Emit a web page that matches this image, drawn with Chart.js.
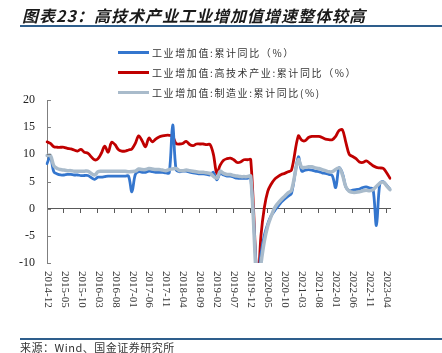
<!DOCTYPE html>
<html>
<head>
<meta charset="utf-8">
<script src="https://cdn.jsdelivr.net/npm/chart.js@4.4.1/dist/chart.umd.min.js"></script>
<style>
body { margin: 0; background: #fff; }
#wrap { position: relative; width: 442px; height: 353px; overflow: hidden; font-family: "Noto Sans CJK SC", sans-serif; }
#chart { position: absolute; left: 0; top: 0; }
.title { position: absolute; left: 22px; top: 3px; font-size: 16px; font-weight: bold; font-style: italic; color: #1a1a1a; letter-spacing: 1px; white-space: nowrap; }
.rule { position: absolute; left: 20px; right: 0; height: 2px; background: #2E5E8C; }
.legend { position: absolute; left: 118px; top: 42px; font-size: 10px; color: #333; letter-spacing: 1.6px; }
.legend div { height: 20px; display: flex; align-items: center; white-space: nowrap; }
.legend i { display: inline-block; width: 31px; height: 3px; margin-right: 3px; }
.source { position: absolute; left: 20px; top: 339px; font-size: 11px; color: #333; white-space: nowrap; letter-spacing: 0.5px; }
</style>
</head>
<body>
<div id="wrap">
  <canvas id="chart" width="442" height="353"></canvas>
  <div class="title">图表23：高技术产业工业增加值增速整体较高</div>
  <div class="rule" style="top:25px"></div>
  <div class="legend">
    <div><i style="background:#3476CE"></i>工业增加值:累计同比（%）</div>
    <div><i style="background:#C00000"></i>工业增加值:高技术产业:累计同比（%）</div>
    <div><i style="background:#A9BBCB"></i>工业增加值:制造业:累计同比(%)</div>
  </div>
  <div class="rule" style="top:338px;height:1.5px"></div>
  <div class="source">来源：Wind、国金证券研究所</div>
</div>
<script>
// months 2014-12 .. 2023-05
const months = [];
for (let y = 2014, m = 12; y < 2023 || m <= 5; ) {
    months.push(y + '-' + String(m).padStart(2, '0'));
    m++;
    if (m > 12) { m = 1; y++; }
}

const yTicks = [-10, -5, 0, 5, 10, 15, 20];

// 工业增加值:累计同比
const industry = [
    8.3, 9.6, 6.8, 6.4, 6.2, 6.2, 6.3, 6.3, 6.2, 6.2, 6.1, 6.1, 6.1,
    null, 5.4, 5.8, 5.8, 5.9, 6.0, 6.0, 6.0, 6.0, 6.0, 6.0, 6.0,
    3.1, 6.3, 6.8, 6.7, 6.7, 6.9, 6.8, 6.7, 6.7, 6.7, 6.6, 6.6,
    15.4, 7.2, 6.8, 6.9, 6.9, 6.7, 6.6, 6.5, 6.4, 6.4, 6.3, 6.2,
    6.7, 5.3, 6.5, 6.2, 6.0, 6.0, 5.8, 5.6, 5.6, 5.6, 5.6, 5.7,
    null, -13.5, -8.4, -4.9, -2.8, -1.3, -0.4, 0.4, 1.2, 1.8, 2.3, 2.8,
    null, 9.5, 6.9, 7.1, 7.2, 7.1, 6.9, 6.8, 6.6, 6.5, 6.3, 6.1,
    3.9, 7.5, 6.5, 4.0, 3.3, 3.4, 3.5, 3.6, 3.9, 4.0, 3.8, 3.6,
    -3.1, 4.6, 5.0, 4.3, 3.6
];

// 工业增加值:高技术产业:累计同比
const hightech = [
    12.3, 12.0, 11.4, 11.3, 11.3, 11.3, 11.1, 11.0, 10.8, 10.6, 10.9, 10.4, 10.2,
    null, 9.0, 9.2, 10.2, 11.5, 10.4, 12.2, 11.8, 10.9, 10.6, 10.6, 10.8,
    11.0, 12.0, 13.4, 12.5, 11.4, 13.0, 12.3, 12.8, 13.2, 13.4, 13.5, 13.5,
    13.3, 12.0, 11.9, 12.0, 12.4, 11.8, 11.6, 11.9, 11.9, 11.9, 11.8, 11.8,
    10.0, 6.5, 8.0, 8.9, 9.2, 9.3, 9.0, 8.5, 8.6, 9.0, 9.0, 9.0,
    null, -14.0, -5.0, 0.2, 3.2, 4.5, 5.4, 5.9, 6.3, 6.5, 6.8, 7.1,
    null, 13.4, 12.6, 12.5, 13.1, 13.3, 13.3, 13.3, 13.1, 12.8, 12.7, 12.7,
    13.3, 14.4, 14.5, 12.2, 10.0, 9.6, 9.2, 8.6, 8.5, 8.8, 8.4, 7.9,
    7.6, 7.5, 7.4, 6.6, 5.6
];

// 工业增加值:制造业:累计同比
const manufacturing = [
    9.8, 9.8, 7.9, 7.4, 7.2, 7.1, 7.0, 7.0, 6.9, 6.9, 6.9, 6.9, 6.9,
    null, 6.2, 6.8, 6.9, 6.9, 6.9, 6.9, 6.9, 6.9, 6.9, 6.9, 6.8,
    null, 6.9, 7.3, 7.2, 7.2, 7.4, 7.3, 7.2, 7.2, 7.1, 7.0, 7.2,
    null, 7.4, 7.0, 7.0, 7.1, 7.0, 6.9, 6.8, 6.7, 6.7, 6.6, 6.5,
    null, 5.6, 6.9, 6.5, 6.3, 6.3, 6.1, 6.0, 5.9, 5.9, 5.9, 6.0,
    null, -15.7, -10.2, -6.0, -3.2, -1.4, 0.1, 1.0, 1.7, 2.3, 2.9, 3.4,
    null, 9.0, 7.6, 7.6, 7.7, 7.7, 7.5, 7.4, 7.2, 7.0, 6.8, 6.8,
    null, 7.5, 6.2, 4.0, 3.2, 3.0, 3.0, 3.1, 3.3, 3.4, 3.3, 3.5,
    null, 4.7, 4.9, 4.2, 3.5
];

// rotated month labels under the plot, inward ticks on the y axis
const axisDecor = {
    id: 'axisDecor',
    afterDraw(chart) {
        const ctx = chart.ctx;
        const xs = chart.scales.x;
        const ys = chart.scales.y;
        ctx.save();
        ctx.font = '11px "Liberation Serif"';
        ctx.fillStyle = '#333';
        ctx.textAlign = 'left';
        ctx.textBaseline = 'middle';
        xs.ticks.forEach(t => {
            const x = xs.getPixelForValue(t.value);
            ctx.save();
            ctx.translate(x + 0.5, 271);
            ctx.rotate(Math.PI / 2);
            ctx.fillText(months[t.value], 0, 0);
            ctx.restore();
        });
        ctx.strokeStyle = '#7f7f7f';
        ctx.lineWidth = 1;
        ys.ticks.forEach(t => {
            const y = Math.round(ys.getPixelForValue(t.value)) + 0.5;
            ctx.beginPath();
            ctx.moveTo(chart.chartArea.left, y);
            ctx.lineTo(chart.chartArea.left + 4, y);
            ctx.stroke();
        });
        ctx.restore();
    }
};

new Chart(document.getElementById('chart'), {
    type: 'line',
    data: {
        labels: months,
        datasets: [
            { label: '工业增加值:累计同比（%）', data: industry, borderColor: '#3476CE', borderWidth: 2.8, order: 1 },
            { label: '工业增加值:高技术产业:累计同比（%）', data: hightech, borderColor: '#C00000', borderWidth: 2.8, order: 2 },
            { label: '工业增加值:制造业:累计同比(%)', data: manufacturing, borderColor: '#A9BBCB', borderWidth: 3.5, order: 0 }
        ]
    },
    options: {
        responsive: false,
        animation: false,
        devicePixelRatio: 1,
        spanGaps: true,
        layout: { padding: { left: 0, right: 52, top: 100, bottom: 90 } },
        elements: {
            point: { radius: 0 },
            line: { tension: 0.35, borderCapStyle: 'round', borderJoinStyle: 'round', fill: false }
        },
        plugins: {
            legend: { display: false },
            title: { display: false },
            tooltip: { enabled: false }
        },
        scales: {
            x: {
                type: 'category',
                position: { y: 0 },
                offset: false,
                afterBuildTicks: axis => { axis.ticks = axis.ticks.filter(t => t.value % 5 === 0); },
                ticks: { display: false, autoSkip: false },
                grid: { drawOnChartArea: false, drawTicks: true, tickLength: 4, color: '#595959' },
                border: { display: true, color: '#595959', width: 1 }
            },
            y: {
                min: -10,
                max: 20,
                afterFit: axis => { axis.width = 47; },
                afterBuildTicks: axis => { axis.ticks = yTicks.map(v => ({ value: v })); },
                ticks: {
                    padding: 12,
                    color: '#222',
                    font: { family: '"Liberation Serif"', size: 12 }
                },
                grid: { drawOnChartArea: false, drawTicks: false },
                border: { display: true, color: '#7f7f7f', width: 1 }
            }
        }
    },
    plugins: [axisDecor]
});
</script>
</body>
</html>
